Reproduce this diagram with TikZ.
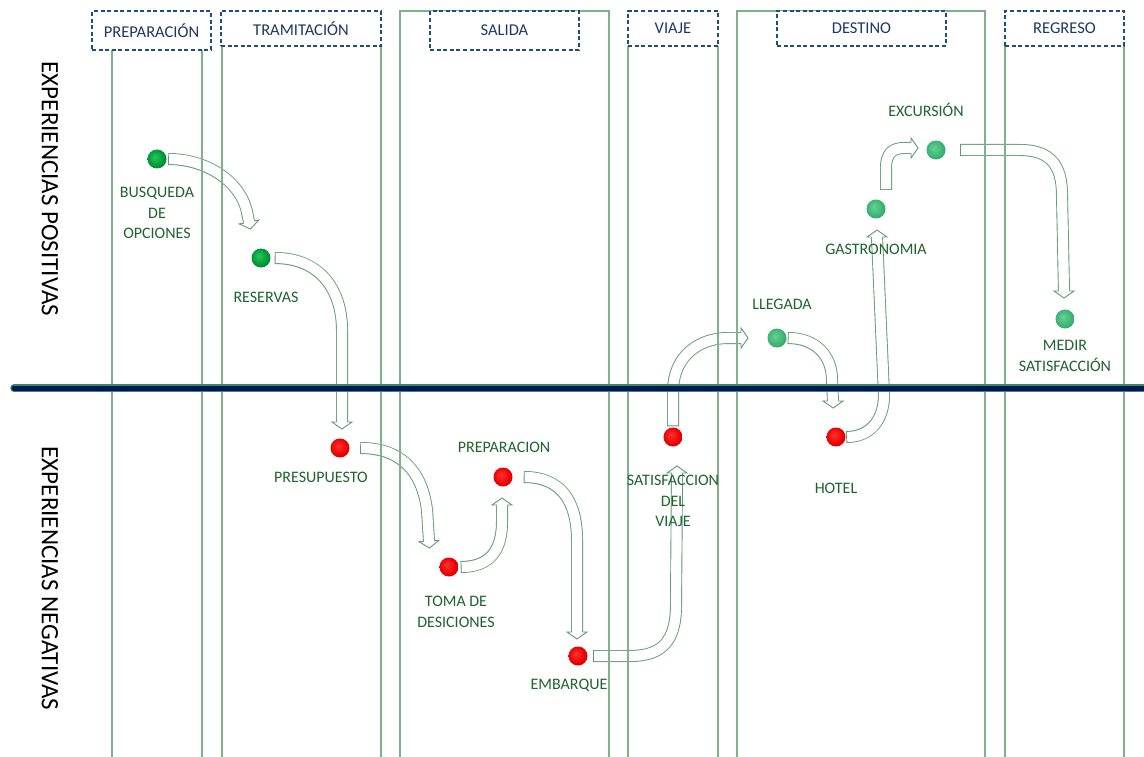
\documentclass[tikz,border=0pt]{standalone}
\usepackage{fontspec}
\setmainfont{Carlito}
\usetikzlibrary{calc}

\definecolor{laneline}{RGB}{128,176,140}
\definecolor{arrline}{RGB}{95,155,115}
\definecolor{hdrnavy}{RGB}{31,78,121}
\definecolor{hdrtext}{RGB}{31,56,100}
\definecolor{lbltext}{RGB}{30,100,45}
\definecolor{axisnavy}{RGB}{8,20,90}
\definecolor{axisedge}{RGB}{50,140,95}

\definecolor{rdA}{RGB}{255,50,50}
\definecolor{rdB}{RGB}{235,0,0}
\definecolor{rdC}{RGB}{165,0,0}
\definecolor{gdA}{RGB}{40,200,90}
\definecolor{gdB}{RGB}{0,150,55}
\definecolor{gdC}{RGB}{0,95,35}
\definecolor{gmA}{RGB}{100,210,150}
\definecolor{gmB}{RGB}{60,178,115}
\definecolor{gmC}{RGB}{35,125,80}

\pgfdeclareradialshading{redball}{\pgfpoint{-6bp}{6bp}}{color(0bp)=(rdA); color(22bp)=(rdB); color(44bp)=(rdC); color(50bp)=(rdC)}
\pgfdeclareradialshading{darkgreenball}{\pgfpoint{-6bp}{6bp}}{color(0bp)=(gdA); color(22bp)=(gdB); color(44bp)=(gdC); color(50bp)=(gdC)}
\pgfdeclareradialshading{midgreenball}{\pgfpoint{-6bp}{6bp}}{color(0bp)=(gmA); color(22bp)=(gmB); color(44bp)=(gmC); color(50bp)=(gmC)}

\pgfdeclarelayer{arrowlayer}
\pgfdeclarelayer{lanelayer}
\pgfsetlayers{arrowlayer,lanelayer,main}

\tikzset{
  dot/.style={circle, minimum size=19pt, inner sep=0pt},
  reddot/.style={dot, shading=redball},
  gdark/.style={dot, shading=darkgreenball},
  gmid/.style={dot, shading=midgreenball},
  lbl/.style={text=lbltext, font=\fontsize{16}{20.5}\selectfont, align=center, inner sep=0pt},
  hdr/.style={draw=hdrnavy, line width=1.6pt, dash pattern=on 4pt off 2.6pt, fill=white,
    text=hdrtext, font=\fontsize{16.5}{20}\selectfont, inner sep=0pt},
  side/.style={text=black, font=\fontsize{25}{30}\selectfont, inner sep=0pt, rotate=-90},
  laneedge/.style={draw=laneline, line width=1.3pt},
  shaftout/.style={draw=arrline, line width=12pt},
  shaftin/.style={draw=white, line width=10.2pt, shorten <=0.9pt, shorten >=-1.4pt},
  headtri/.style={fill=white, draw=arrline, line width=0.9pt, line join=miter},
}

% hollow block arrow: #1 = shaft path up to the head base #2, #3 = tip
\newcommand\blockarrow[3]{%
  \draw[shaftout] #1 -- (#2);
  \filldraw[headtri] ($(#2)!10pt!90:(#3)$) -- (#3) -- ($(#2)!10pt!-90:(#3)$) -- cycle;
  \draw[shaftin] #1 -- (#2);
}

\begin{document}
\begin{tikzpicture}[x=1pt,y=-1pt]
\useasboundingbox (0,0) rectangle (1144,757);

% ---- stage headers
\node[hdr, minimum width=119pt, minimum height=38.5pt] (hprep) at (151.5,30.5) {PREPARACIÓN};
\node[hdr, minimum width=160pt, minimum height=35pt]   (htram) at (301,28.5)   {TRAMITACIÓN};
\node[hdr, minimum width=149pt, minimum height=38.5pt] (hsal)  at (504.5,30.5) {SALIDA};
\node[hdr, minimum width=90pt,  minimum height=35pt]   (hvia)  at (673,28.5)   {VIAJE};
\node[hdr, minimum width=169pt, minimum height=35pt]   (hdes)  at (861.5,28.5) {DESTINO};
\node[hdr, minimum width=119pt, minimum height=35pt]   (hreg)  at (1064.5,28.5){REGRESO};

% ---- side captions
\node[side] (spos) at (50,189) {EXPERIENCIAS POSITIVAS};
\node[side] (sneg) at (50,578.5) {EXPERIENCIAS NEGATIVAS};

% ---- touchpoints
\node[gdark]   (d1)  at (157,159) {};
\node[gdark]   (d2)  at (261,258) {};
\node[reddot]  (d3)  at (340,448) {};
\node[reddot]  (d4)  at (449,567) {};
\node[reddot]  (d5)  at (503,477) {};
\node[reddot]  (d6)  at (578,656) {};
\node[reddot]  (d7)  at (673,437) {};
\node[gmid]    (d8)  at (777,338) {};
\node[reddot]  (d9)  at (836,437) {};
\node[gmid]    (d10) at (876,209) {};
\node[gmid]    (d11) at (936,150) {};
\node[gmid]    (d12) at (1065,319) {};

% ---- touchpoint captions
\node[lbl] (l1)  at (157,213)  {BUSQUEDA\\DE\\OPCIONES};
\node[lbl] (l2)  at (266,297)  {RESERVAS};
\node[lbl] (l3)  at (321,477)  {PRESUPUESTO};
\node[lbl] (l4)  at (456,612)  {TOMA DE\\DESICIONES};
\node[lbl] (l5)  at (504,447)  {PREPARACION};
\node[lbl] (l6)  at (569,685)  {EMBARQUE};
\node[lbl] (l7)  at (673,501)  {SATISFACCION\\DEL\\VIAJE};
\node[lbl] (l8)  at (782,304)  {LLEGADA};
\node[lbl] (l9)  at (836,488)  {HOTEL};
\node[lbl] (l10) at (876,249)  {GASTRONOMIA};
\node[lbl] (l11) at (926,110)  {EXCURSIÓN};
\node[lbl] (l12) at (1065,356) {MEDIR\\SATISFACCIÓN};

% ---- head bases and tips of the flow arrows
\coordinate (b1)  at (249,222);  \coordinate (t1)  at (250.4,229);
\coordinate (b2)  at (342,422);  \coordinate (t2)  at (342,429);
\coordinate (b3)  at (429,541);  \coordinate (t3)  at (429.5,548);
\coordinate (b4)  at (502,505);  \coordinate (t4)  at (502,498);
\coordinate (b5)  at (577,632);  \coordinate (t5)  at (577,639);
\coordinate (b6)  at (677,473);  \coordinate (t6)  at (677,466);
\coordinate (b7)  at (741,338);  \coordinate (t7)  at (748,338);
\coordinate (b8)  at (833,401);  \coordinate (t8)  at (833,408);
\coordinate (b9)  at (877,237);  \coordinate (t9)  at (877,230);
\coordinate (b10) at (911,148);  \coordinate (t10) at (918,148);
\coordinate (b11) at (1064,291); \coordinate (t11) at (1064,298);

\begin{pgfonlayer}{arrowlayer}
  \fill[white] (0,0) rectangle (1144,757);
  \blockarrow{($(d1.east)+(1.5,0)$) .. controls (205,159) and (240,180) .. (247,212)}{b1}{t1}
  \blockarrow{($(d2.east)+(4,0)$) .. controls (320,258) and (342,290) .. (342,330)}{b2}{t2}
  \blockarrow{($(d3.east)+(10.5,0)$) .. controls (400,448) and (422,470) .. (427,510)}{b3}{t3}
  \blockarrow{($(d4.east)+(2,0)$) .. controls (490,567) and (502,550) .. (502,522)}{b4}{t4}
  \blockarrow{($(d5.east)+(11,0)$) .. controls (560,477) and (577,500) .. (577,540)}{b5}{t5}
  \blockarrow{($(d6.east)+(5.5,0)$) -- (630,656) .. controls (663,656) and (676,640) .. (676,605)}{b6}{t6}
  \blockarrow{($(d7.north)+(0,-1)$) -- (673,392) .. controls (673,355) and (700,338) .. (728,338)}{b7}{t7}
  \blockarrow{($(d8.east)+(1,0)$) .. controls (815,338) and (832,355) .. (832,380)}{b8}{t8}
  \blockarrow{($(d9.east)+(0.5,0)$) .. controls (870,437) and (884,420) .. (884,395)}{b9}{t9}
  \blockarrow{($(d10)+(10,-19)$) -- (886,168) .. controls (886,152) and (894,148) .. (904,148)}{b10}{t10}
  \blockarrow{($(d11.east)+(14.5,0)$) -- (1020,150) .. controls (1050,150) and (1062,165) .. (1062,195)}{b11}{t11}
\end{pgfonlayer}

\begin{pgfonlayer}{lanelayer}
  % stage lanes
  \draw[laneedge] (112,50) -- (112,757) (202,50) -- (202,757);
  \draw[laneedge] (222,46) -- (222,757) (381,46) -- (381,757);
  \draw[laneedge] (400,757) -- (400,11) -- (609,11) -- (609,757);
  \draw[laneedge] (628,46) -- (628,757) (718,46) -- (718,757);
  \draw[laneedge] (737,757) -- (737,11) -- (985,11) -- (985,757);
  \draw[laneedge] (1005,46) -- (1005,757) (1124,46) -- (1124,757);
  % dividing axis between positive and negative experiences
  \draw[axisedge, line width=7.5pt, line cap=round] (14,388) -- (1150,388);
  \draw[axisnavy, line width=5pt, line cap=round] (14,388) -- (1150,388);
\end{pgfonlayer}
\end{tikzpicture}
\end{document}
